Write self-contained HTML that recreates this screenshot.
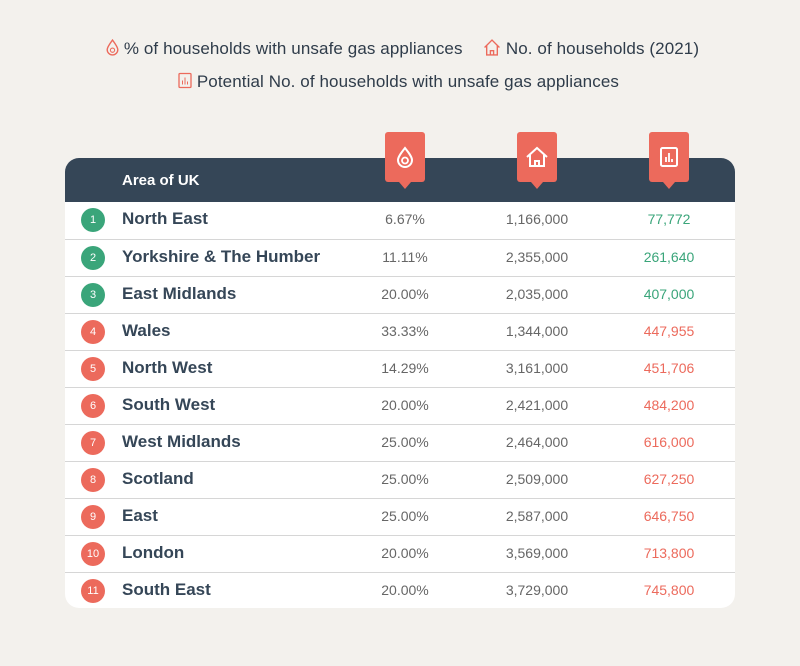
<!DOCTYPE html>
<html><head><style>
body{margin:0;width:800px;height:666px;background:#f3f1ed;font-family:"Liberation Sans",sans-serif;position:relative;overflow:hidden}
.leg{position:absolute;font-size:17px;letter-spacing:0.1px;color:#2f3c4a;white-space:nowrap}
.card{position:absolute;left:65px;top:158px;width:670px;height:450px;background:#fff;border-radius:14px;overflow:hidden}
.hdr{position:absolute;left:0;top:0;width:670px;height:44px;background:#354657}
.hdr span{position:absolute;left:57px;top:14px;color:#fff;font-weight:bold;font-size:15px}
.row{position:absolute;left:0;width:670px;height:37px;border-top:1px solid #d6d6d6;box-sizing:border-box}
.c{position:absolute;left:16px;top:6px;width:24px;height:24px;border-radius:50%;color:#fff;font-size:11px;text-align:center;line-height:24px}
.n{position:absolute;left:57px;top:7px;font-weight:bold;font-size:17px;color:#354657}
.v{position:absolute;top:9px;font-size:14px;color:#666;width:120px;text-align:center}
.badge{position:absolute;top:132px;width:40px;height:50px;background:#ec6a5c;border-radius:3px}
.badge:after{content:"";position:absolute;left:14px;bottom:-7px;border-left:6px solid transparent;border-right:6px solid transparent;border-top:7px solid #ec6a5c}
.badge svg{position:absolute;left:8px;top:13px}
</style></head><body>
<div class="leg" style="left:106px;top:39px"><svg width="13" height="17" viewBox="0 0 12 16" style="vertical-align:-2px"><path d="M6 1C3 5 1 8 1 10a5 5 0 0010 0C11 8 9 5 6 1z" fill="none" stroke="#ec6a5c" stroke-width="1.3"/><circle cx="6" cy="10.5" r="2" fill="none" stroke="#ec6a5c"/></svg> % of households with unsafe gas appliances</div>
<div class="leg" style="left:483px;top:39px"><svg width="18" height="17" viewBox="0 0 16 16" style="vertical-align:-2px"><path d="M1 8L8 1l7 7M3 6v9h10V6M6.5 15v-4h3v4" fill="none" stroke="#ec6a5c" stroke-width="1.3"/></svg> No. of households (2021)</div>
<div class="leg" style="left:178px;top:72px"><svg width="14" height="17" viewBox="0 0 14 16" style="vertical-align:-2px"><rect x="1" y="1" width="12" height="14" rx="1" fill="none" stroke="#ec6a5c" stroke-width="1.3"/><path d="M4.5 12V8M7 12V5M9.5 12V9" stroke="#ec6a5c"/></svg> Potential No. of households with unsafe gas appliances</div>
<div class="card">
<div class="hdr"><span>Area of UK</span></div>
<div id="rows"></div>
</div>
<div class="badge" style="left:385px"><svg width="24" height="24" viewBox="0 0 24 24"><path d="M12 3C8 8 5 12 5 15a7 7 0 0014 0c0-3-3-7-7-12z" fill="none" stroke="#fff" stroke-width="2"/><circle cx="12" cy="15.5" r="3" fill="none" stroke="#fff" stroke-width="1.8"/></svg></div>
<div class="badge" style="left:517px"><svg width="24" height="24" viewBox="0 0 24 24"><path d="M2 12L12 3l10 9M5 10v11h14V10M10 21v-5h4v5" fill="none" stroke="#fff" stroke-width="2"/></svg></div>
<div class="badge" style="left:649px"><svg width="24" height="24" viewBox="0 0 24 24"><rect x="4" y="3" width="16" height="18" rx="1.5" fill="none" stroke="#fff" stroke-width="2"/><path d="M9 17v-5M12 17V8M15 17v-3" stroke="#fff" stroke-width="1.8"/></svg></div>
<script>
var d=[["North East","6.67%","1,166,000","77,772",1],["Yorkshire & The Humber","11.11%","2,355,000","261,640",1],["East Midlands","20.00%","2,035,000","407,000",1],["Wales","33.33%","1,344,000","447,955"],["North West","14.29%","3,161,000","451,706"],["South West","20.00%","2,421,000","484,200"],["West Midlands","25.00%","2,464,000","616,000"],["Scotland","25.00%","2,509,000","627,250"],["East","25.00%","2,587,000","646,750"],["London","20.00%","3,569,000","713,800"],["South East","20.00%","3,729,000","745,800"]];
var h="";d.forEach(function(r,i){var col=r[4]?"#3aa57a":"#ec6a5c";
h+='<div class="row" style="top:'+(44+i*37)+'px;'+(i==0?'border-top:none':'')+'"><div class="c" style="background:'+col+'">'+(i+1)+'</div><div class="n">'+r[0].replace("&","&amp;")+'</div><div class="v" style="left:280px">'+r[1]+'</div><div class="v" style="left:412px">'+r[2]+'</div><div class="v" style="left:544px;color:'+col+'">'+r[3]+'</div></div>';});
document.getElementById("rows").innerHTML=h;
</script>
</body></html>
